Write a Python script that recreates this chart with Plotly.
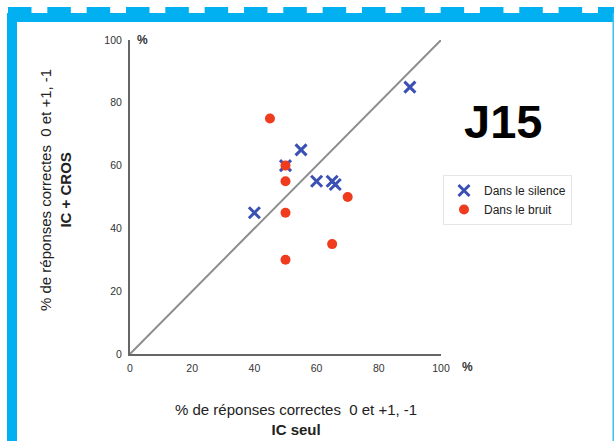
import plotly.graph_objects as go

# ---- data ----
silence_x = [90, 55, 50, 60, 65, 66, 40]
silence_y = [85, 65, 60, 55, 55, 54, 45]
bruit_x = [45, 50, 50, 50, 70, 65, 50]
bruit_y = [75, 60, 55, 45, 50, 35, 30]
diag = [0, 100]
tick_vals = [0, 20, 40, 60, 80, 100]
tick_text = ["0", "20", "40", "60", "80", "100"]

W, H = 614, 441
L, R, T, B = 130, 173, 40, 87
PW, PH = W - L - R, H - T - B
BLUE = "#00B0F0"


def px(x):
    return (x - L) / PW


def py(y):
    return (H - B - y) / PH


fig = go.Figure()
fig.add_trace(go.Scatter(x=diag, y=diag, mode="lines",
                         line=dict(color="#8e8e8e", width=2),
                         showlegend=False, hoverinfo="skip"))
fig.add_trace(go.Scatter(x=silence_x, y=silence_y, mode="markers",
                         name="Dans le silence",
                         marker=dict(symbol="x-thin", size=11,
                                     line=dict(width=3, color="#3B50B5"),
                                     color="#3B50B5")))
fig.add_trace(go.Scatter(x=bruit_x, y=bruit_y, mode="markers",
                         name="Dans le bruit",
                         marker=dict(symbol="circle", size=10, color="#EF3B1E")))

shapes = []
# castellated top border
for k in range(16):
    x0 = 8 + 39.33 * k
    shapes.append(dict(type="rect", xref="paper", yref="paper",
                       x0=px(x0), x1=px(min(x0 + 23.5, W)), y0=py(13.5), y1=py(7),
                       fillcolor=BLUE, line=dict(width=0), layer="below"))
shapes.append(dict(type="rect", xref="paper", yref="paper",
                   x0=px(7), x1=px(W), y0=py(22), y1=py(13),
                   fillcolor=BLUE, line=dict(width=0), layer="below"))
shapes.append(dict(type="rect", xref="paper", yref="paper",
                   x0=px(7), x1=px(17), y0=py(H), y1=py(13),
                   fillcolor=BLUE, line=dict(width=0), layer="below"))
shapes.append(dict(type="rect", xref="paper", yref="paper",
                   x0=px(612.5), x1=px(614), y0=py(H), y1=py(13),
                   fillcolor="#3CC0F2", line=dict(width=0), layer="below"))

FONT = "Liberation Sans, Arial, sans-serif"
annotations = [
    dict(text="% de réponses correctes  0 et +1, -1<br><b>IC seul</b>",
         xref="paper", yref="paper", x=px(296), y=py(419),
         xanchor="center", yanchor="middle", showarrow=False,
         font=dict(family=FONT, size=15, color="#222")),
    dict(text="% de réponses correctes  0 et +1, -1<br><b>IC + CROS</b>",
         xref="paper", yref="paper", x=px(55), y=py(190),
         xanchor="center", yanchor="middle", textangle=-90, showarrow=False,
         font=dict(family=FONT, size=15, color="#222")),
    dict(text="<b>%</b>", xref="paper", yref="paper", x=px(142), y=py(40),
         xanchor="center", yanchor="middle", showarrow=False,
         font=dict(family=FONT, size=12, color="#333")),
    dict(text="<b>%</b>", xref="paper", yref="paper", x=px(467), y=py(367),
         xanchor="center", yanchor="middle", showarrow=False,
         font=dict(family=FONT, size=12, color="#333")),
    dict(text="<b>J15</b>", xref="paper", yref="paper", x=px(503), y=py(121),
         xanchor="center", yanchor="middle", showarrow=False,
         font=dict(family=FONT, size=47, color="#000")),
]

axis_common = dict(range=[0, 100], tickvals=tick_vals, ticktext=tick_text,
                   showgrid=False, zeroline=False, showline=True,
                   linecolor="#666", linewidth=2, ticks="",
                   tickfont=dict(family=FONT, size=10.5, color="#333"),
                   fixedrange=True)

fig.update_layout(
    width=W, height=H, autosize=False,
    margin=dict(l=L, r=R, t=T, b=B, pad=0),
    paper_bgcolor="white", plot_bgcolor="white",
    xaxis=dict(**axis_common, ticklabelstandoff=3),
    yaxis=dict(**axis_common, ticklabelstandoff=4),
    legend=dict(x=px(443), y=py(175), xanchor="left", yanchor="top",
                bgcolor="white", bordercolor="#e6e6e6", borderwidth=1,
                font=dict(family=FONT, size=12, color="#222"),
                tracegroupgap=0, itemwidth=30, entrywidth=120),
    shapes=shapes, annotations=annotations,
    showlegend=True,
)

fig.write_html("out.html")
